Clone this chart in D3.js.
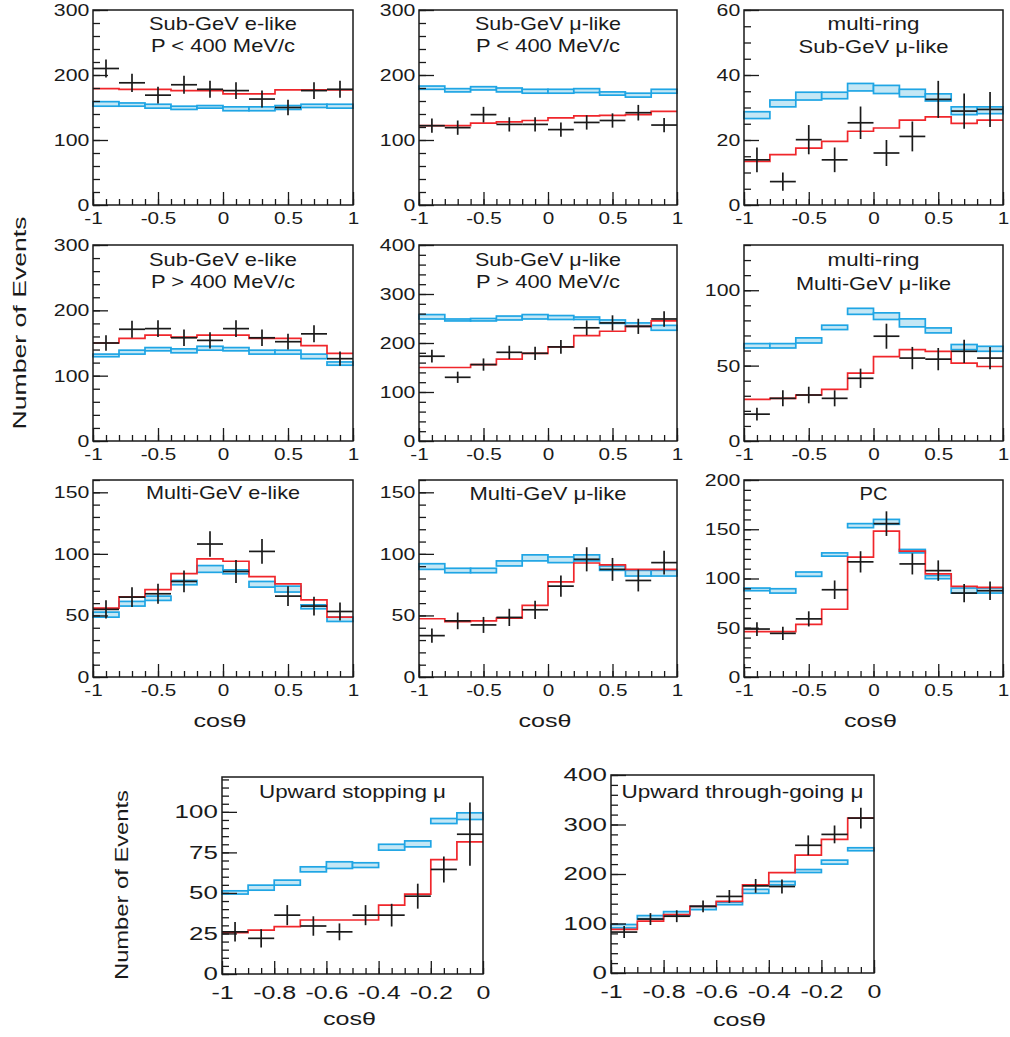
<!DOCTYPE html>
<html><head><meta charset="utf-8">
<script src="https://cdn.jsdelivr.net/npm/d3@7"></script>
<style>
body{margin:0;background:#fff}
svg{display:block}
text{font-family:"Liberation Sans",Arial,Helvetica,sans-serif;fill:#1a1a1a}
</style>
</head><body>
<svg id="c" width="1010" height="1037"></svg>
<script>
// ---------- bins & ticks ----------
const edgesTop = [-1,-0.8,-0.6,-0.4,-0.2,0,0.2,0.4,0.6,0.8,1];
const edgesUp  = [-1,-0.9,-0.8,-0.7,-0.6,-0.5,-0.4,-0.3,-0.2,-0.1,0];
const xTicksTop = [-1,-0.5,0,0.5,1];
const xTickLabelsTop = ["-1","-0.5","0","0.5","1"];
const xTicksUp = [-1,-0.8,-0.6,-0.4,-0.2,0];
const xTickLabelsUp = ["-1","-0.8","-0.6","-0.4","-0.2","0"];

// ---------- Sub-GeV e-like P<400 ----------
const sgeLowData = [210,188,169,185,178,176,163,150,176,178];
const sgeLowErr  = [14,14,13,14,13,13,13,12,13,13];
const sgeLowOsc  = [179,178,178,176,176,171,171,177,177,177];
const sgeLowNoLo = [152,152,149,147,149,145,145,147,150,149];
const sgeLowNoHi = [159,157,155,152,153,151,151,153,155,155];
// ---------- Sub-GeV mu-like P<400 ----------
const sgmLowData = [122,119,139,124,124,116,127,130,142,123];
const sgmLowErr  = [11,11,12,11,11,11,11,11,12,11];
const sgmLowOsc  = [122,122,126,128,130,134,137,138,139,144];
const sgmLowNoLo = [178,174,177,174,172,172,173,169,166,172];
const sgmLowNoHi = [183,179,182,180,178,178,179,174,172,178];
// ---------- multi-ring Sub-GeV mu-like ----------
const mrsData = [13.9,7.2,20.1,13.9,25.3,16,21.1,32.5,28.9,29.4];
const mrsErr  = [3.8,2.8,4.5,3.8,5,4,4.6,5.7,5.4,5.4];
const mrsOsc  = [13.4,15.5,17.5,19.6,22.7,23.7,26.1,27.1,25.1,26.1];
const mrsNoLo = [26.6,30.2,32.3,32.7,35.1,34.3,33.3,32.0,27.8,28.1];
const mrsNoHi = [28.7,32.3,34.7,34.7,37.4,36.8,35.6,34.2,30.2,30.2];
// ---------- Sub-GeV e-like P>400 ----------
const sgeHighData = [150,171,172,158,154,172,158,152,164,126];
const sgeHighErr  = [12,13,13,12.5,12.5,13,12.5,12,13,11];
const sgeHighOsc  = [150,157,162,159,162,162,157,157,146,134];
const sgeHighNoLo = [129,133,138,135,139,138,133,133,126,116];
const sgeHighNoHi = [133,139,143,141,145,143,139,139,133,121];
// ---------- Sub-GeV mu-like P>400 ----------
const sgmHighData = [173,130,156,181,179,192,231,241,234,249];
const sgmHighErr  = [13,11.5,12.5,13.5,13.5,14,15,15.5,15.5,16];
const sgmHighOsc  = [150,150,156,167,179,192,215,224,234,245];
const sgmHighNoLo = [249,245,245,247,249,248,248,240,234,226];
const sgmHighNoHi = [258,249,250,255,258,256,253,247,241,236];
// ---------- multi-ring Multi-GeV mu-like ----------
const mrmData = [17.8,28.3,30.5,28.3,41.6,69.5,55,54.3,59.5,55];
const mrmErr  = [4.2,5.3,5.5,5.3,6.4,8.3,7.4,7.4,7.7,7.4];
const mrmOsc  = [27.6,28.3,30.5,34.3,45,56,60.6,59.5,51.7,49.4];
const mrmNoLo = [61.7,61.7,65,73.9,84,80.6,75.7,71.7,60.6,59.5];
const mrmNoHi = [64.6,64.6,68.4,76.8,88,85,81,75,64,62.8];
// ---------- Multi-GeV e-like ----------
const mgeData = [54.9,64.9,67.6,77.6,108,85.7,102,65.7,57.6,53.2];
const mgeErr  = [7.4,8,8.2,8.8,10.4,9.3,10.1,8.1,7.6,7.3];
const mgeOsc  = [56,65,71,84,96,94,81.6,75.7,62.7,48.6];
const mgeNoLo = [48.6,57.6,62.2,74.9,85,83.8,73,69,55.4,45.1];
const mgeNoHi = [52.7,61.4,65.7,78.4,90.5,87,77.6,73.8,58.6,48.6];
// ---------- Multi-GeV mu-like ----------
const mgmData = [33.6,45.6,42.3,48.4,54.6,73.8,95.6,87.4,78.4,92.9];
const mgmErr  = [5.8,6.8,6.5,7,7.4,8.6,9.8,9.3,8.9,9.6];
const mgmOsc  = [47.3,45,45.6,47.8,58.2,77.3,92.6,91,87.4,87.4];
const mgmNoLo = [87.4,84.7,84.7,90.2,94.3,92.9,94.3,86.6,82,82];
const mgmNoHi = [92,88.3,88.3,94.3,99.2,97.5,99.2,90.2,86.6,86.6];
// ---------- PC ----------
const pcData = [48.7,44.3,59,88.6,116.9,155.7,114.8,108,85.2,87.6];
const pcErr  = [7,6.7,7.7,9.4,10.8,12.5,10.7,10.4,9.2,9.4];
const pcOsc  = [46,46,53.5,68.8,121.6,148,127.8,104.6,92,91];
const pcNoLo = [87.6,85.2,102.2,122.7,151.6,155,126,99.8,85.2,85.2];
const pcNoHi = [90.3,89.6,106.6,126,155.7,160,129.5,103,90.3,90.3];
// ---------- Upward stopping mu ----------
const upStopData = [26,22,36.3,29.6,26,36.3,36.3,48,64.5,86.2];
const upStopErr  = [6,5.6,6.2,6,5.2,6.2,7,7.7,8,19.5];
const upStopOsc  = [25.5,27.1,29.2,33.3,33.3,33.3,42.5,49.3,70.6,81.5];
const upStopNoLo = [49.3,51.7,54.8,63,65.1,65.7,76.4,78.4,92.8,95.3];
const upStopNoHi = [51.3,54.8,57.9,66.1,69.2,68.6,80,82.1,95.9,99.4];
// ---------- Upward through-going mu ----------
const upThruData = [82.7,109,114.7,134.7,154.7,176,174.7,258,280,313];
const upThruErr  = [12,12,12,12,13,14,14,20,18,21];
const upThruOsc  = [88,104.7,118,134.7,144.7,178,202.7,238,270,313];
const upThruNoLo = [91,109,116,128,138,161,178,203,220,247];
const upThruNoHi = [98,116,124,135,143,169,185,209,228,253];

// ---------- styles ----------
const BLUE = '#1fa5e4', FILL = '#c4e7f5', RED = '#f0262b', INK = '#1a1a1a';
const svg = d3.select('#c');

const cols = [[93,353],[419,677],[744,1003]];
const rows = [[10,205],[245,441],[480,677]];

const gridStyle = {edges:edgesTop, xt:xTicksTop, xl:xTickLabelsTop, xMinor:0.1, fs:17, sx:1.22, ysx:1.25, pad:7};
const upStyle   = {edges:edgesUp,  xt:xTicksUp,  xl:xTickLabelsUp,  xMinor:0.05, fs:18.5, sx:1.35, ysx:1.4, pad:12};

const panels = [
 {...gridStyle, c:cols[0], r:rows[0], yMax:300, yt:[0,100,200,300], yMinor:20,
  d:sgeLowData,e:sgeLowErr,o:sgeLowOsc,lo:sgeLowNoLo,hi:sgeLowNoHi,
  title:[["Sub-GeV e-like",30,148],["P < 400 MeV/c",52,144]]},
 {...gridStyle, c:cols[1], r:rows[0], yMax:300, yt:[0,100,200,300], yMinor:20,
  d:sgmLowData,e:sgmLowErr,o:sgmLowOsc,lo:sgmLowNoLo,hi:sgmLowNoHi,
  title:[["Sub-GeV μ-like",30,146],["P < 400 MeV/c",52,144]]},
 {...gridStyle, c:cols[2], r:rows[0], yMax:60, yt:[0,20,40,60], yMinor:5,
  d:mrsData,e:mrsErr,o:mrsOsc,lo:mrsNoLo,hi:mrsNoHi,
  title:[["multi-ring",30,92],["Sub-GeV μ-like",53,150]]},
 {...gridStyle, c:cols[0], r:rows[1], yMax:300, yt:[0,100,200,300], yMinor:20,
  d:sgeHighData,e:sgeHighErr,o:sgeHighOsc,lo:sgeHighNoLo,hi:sgeHighNoHi,
  title:[["Sub-GeV e-like",266,148],["P > 400 MeV/c",288,144]]},
 {...gridStyle, c:cols[1], r:rows[1], yMax:400, yt:[0,100,200,300,400], yMinor:20,
  d:sgmHighData,e:sgmHighErr,o:sgmHighOsc,lo:sgmHighNoLo,hi:sgmHighNoHi,
  title:[["Sub-GeV μ-like",266,146],["P > 400 MeV/c",288,144]]},
 {...gridStyle, c:cols[2], r:rows[1], yMax:130, yt:[0,50,100], yMinor:10,
  d:mrmData,e:mrmErr,o:mrmOsc,lo:mrmNoLo,hi:mrmNoHi,
  title:[["multi-ring",266,92],["Multi-GeV μ-like",290,155]]},
 {...gridStyle, c:cols[0], r:rows[2], yMax:160, yt:[0,50,100,150], yMinor:10,
  d:mgeData,e:mgeErr,o:mgeOsc,lo:mgeNoLo,hi:mgeNoHi,
  title:[["Multi-GeV e-like",499,154]], xlabel:true},
 {...gridStyle, c:cols[1], r:rows[2], yMax:160, yt:[0,50,100,150], yMinor:10,
  d:mgmData,e:mgmErr,o:mgmOsc,lo:mgmNoLo,hi:mgmNoHi,
  title:[["Multi-GeV μ-like",500,157]], xlabel:true},
 {...gridStyle, c:cols[2], r:rows[2], yMax:200, yt:[0,50,100,150,200], yMinor:10,
  d:pcData,e:pcErr,o:pcOsc,lo:pcNoLo,hi:pcNoHi,
  title:[["PC",500,28]], xlabel:true},
 {...upStyle, c:[222,483], r:[777,974], yMax:121.5, yt:[0,25,50,75,100], yMinor:5,
  d:upStopData,e:upStopErr,o:upStopOsc,lo:upStopNoLo,hi:upStopNoHi,
  title:[["Upward stopping μ",798,187]], xlabel:true, xlabY:1025, ylabel:true},
 {...upStyle, c:[611,874], r:[775,973], yMax:400, yt:[0,100,200,300,400], yMinor:20,
  d:upThruData,e:upThruErr,o:upThruOsc,lo:upThruNoLo,hi:upThruNoHi,
  title:[["Upward through-going μ",798,242]], xlabel:true, xlabY:1026}
];

function styleTickText(sel, fs, sx){
  sel.attr('font-family',null).attr('font-size',null);
  sel.selectAll('text').attr('font-size',fs).attr('fill',INK).style('fill',INK)
     .attr('transform',`scale(${sx},1)`);
}

function drawPanel(p){
  const [x0,x1] = p.c, [y0,y1] = p.r;
  const xd = [p.edges[0], p.edges[p.edges.length-1]];
  const x = d3.scaleLinear().domain(xd).range([x0,x1]);
  const y = d3.scaleLinear().domain([0,p.yMax]).range([y1,y0]);
  const g = svg.append('g');
  const bins = d3.range(p.edges.length-1).map(i=>({
    a:p.edges[i], b:p.edges[i+1], v:p.d[i], e:p.e[i], o:p.o[i], lo:p.lo[i], hi:p.hi[i]}));

  // no-oscillation band
  g.append('g').selectAll('rect').data(bins).join('rect')
    .attr('x',d=>x(d.a)).attr('width',d=>x(d.b)-x(d.a))
    .attr('y',d=>y(d.hi)).attr('height',d=>Math.max(1,y(d.lo)-y(d.hi)))
    .attr('fill',FILL).attr('stroke',BLUE).attr('stroke-width',1.7);

  // oscillation best fit (step)
  const pts = [];
  bins.forEach(d=>{pts.push([d.a,d.o]); pts.push([d.b,d.o]);});
  g.append('path').attr('d', d3.line().x(d=>x(d[0])).y(d=>y(d[1]))(pts))
    .attr('fill','none').attr('stroke',RED).attr('stroke-width',1.7);

  // data points
  const dg = g.append('g').attr('stroke',INK).attr('stroke-width',1.7);
  dg.selectAll('line.h').data(bins).join('line').attr('class','h')
    .attr('x1',d=>x(d.a)).attr('x2',d=>x(d.b)).attr('y1',d=>y(d.v)).attr('y2',d=>y(d.v));
  dg.selectAll('line.v').data(bins).join('line').attr('class','v')
    .attr('x1',d=>x((d.a+d.b)/2)).attr('x2',d=>x((d.a+d.b)/2))
    .attr('y1',d=>y(d.v-d.e)).attr('y2',d=>y(d.v+d.e));

  // axes
  const xMin = d3.range(xd[0], xd[1]+1e-9, p.xMinor).map(v=>+v.toFixed(3));
  const xb1 = g.append('g').attr('transform',`translate(0,${y1})`)
    .call(d3.axisBottom(x).tickValues(xMin).tickSize(-6).tickFormat(''));
  const xb2 = g.append('g').attr('transform',`translate(0,${y1})`)
    .call(d3.axisBottom(x).tickValues(p.xt).tickSize(-13).tickPadding(p.pad)
      .tickFormat((v,i)=>p.xl[i]));
  const yMin = d3.range(0, p.yMax+1e-9, p.yMinor);
  const yb1 = g.append('g').attr('transform',`translate(${x0},0)`)
    .call(d3.axisLeft(y).tickValues(yMin).tickSize(-7).tickFormat(''));
  const yb2 = g.append('g').attr('transform',`translate(${x0},0)`)
    .call(d3.axisLeft(y).tickValues(p.yt).tickSize(-15).tickPadding(3).tickFormat(d3.format('d')));
  [xb1,xb2,yb1,yb2].forEach(a=>{
    a.select('.domain').remove();
    a.selectAll('line').attr('stroke',INK).attr('stroke-width',1.3);
  });
  styleTickText(xb2, p.fs, p.sx);
  styleTickText(yb2, p.fs, p.ysx);

  // frame
  g.append('rect').attr('x',x0).attr('y',y0).attr('width',x1-x0).attr('height',y1-y0)
    .attr('fill','none').attr('stroke',INK).attr('stroke-width',1.5);

  // title
  const cx = (x0+x1)/2;
  p.title.forEach(([s,ty,len])=>{
    g.append('text').attr('x',cx).attr('y',ty).attr('text-anchor','middle')
      .attr('font-size',18.5).attr('textLength',len).attr('lengthAdjust','spacingAndGlyphs').text(s);
  });

  if(p.xlabel){
    g.append('text').attr('x',cx-3).attr('y',p.xlabY||727).attr('text-anchor','middle')
      .attr('font-size',19).attr('textLength',53).attr('lengthAdjust','spacingAndGlyphs').text('cosθ');
  }
  if(p.ylabel){
    g.append('text').attr('transform',`translate(128,885) rotate(-90)`).attr('text-anchor','middle')
      .attr('font-size',19).attr('textLength',190).attr('lengthAdjust','spacingAndGlyphs').text('Number of Events');
  }
}

panels.forEach(drawPanel);

svg.append('text').attr('transform','translate(26,323) rotate(-90)').attr('text-anchor','middle')
  .attr('font-size',19).attr('textLength',213).attr('lengthAdjust','spacingAndGlyphs').text('Number of Events');
</script>
</body></html>
